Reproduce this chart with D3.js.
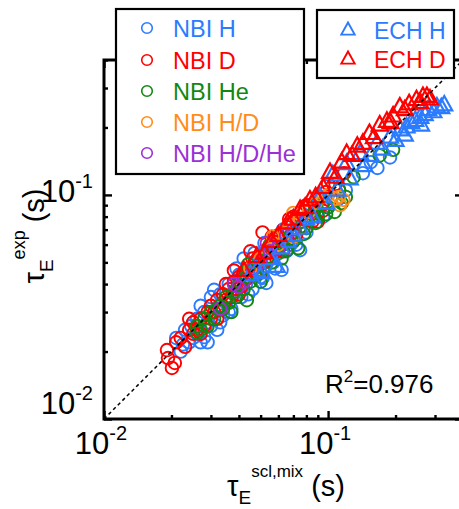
<!DOCTYPE html>
<html>
<head>
<meta charset="utf-8">
<script src="https://cdn.jsdelivr.net/npm/d3@7"></script>
<style>
  body { margin: 0; background: #fff; }
  svg text { font-family: Arial, "Liberation Sans", sans-serif; }
</style>
</head>
<body>
<svg id="chart" width="459" height="509"></svg>
<script>
// --- Data (tau_scl, tau_exp) in seconds ---
const nbiH = [[0.021,0.023],[0.022,0.020],[0.0225,0.0215],[0.023,0.025],[0.024,0.022],[0.0245,0.026],[0.025,0.023],[0.026,0.024],[0.026,0.028],[0.027,0.022],[0.027,0.032],[0.028,0.0232],[0.028,0.030],[0.029,0.027],[0.029,0.022],[0.030,0.026],[0.030,0.035],[0.031,0.0377],[0.032,0.025],[0.032,0.031],[0.033,0.036],[0.033,0.027],[0.034,0.029],[0.035,0.033],[0.036,0.040],[0.036,0.030],[0.037,0.031],[0.038,0.036],[0.039,0.047],[0.040,0.044],[0.041,0.035],[0.042,0.052],[0.043,0.040],[0.044,0.036],[0.045,0.047],[0.046,0.038],[0.047,0.055],[0.048,0.050],[0.050,0.043],[0.051,0.0426],[0.052,0.061],[0.053,0.0405],[0.055,0.058],[0.057,0.050],[0.058,0.047],[0.060,0.062],[0.062,0.0463],[0.063,0.070],[0.065,0.056],[0.068,0.060],[0.070,0.066],[0.072,0.060],[0.075,0.0567],[0.078,0.072],[0.080,0.068],[0.085,0.080],[0.090,0.085],[0.095,0.080],[0.100,0.088],[0.110,0.095],[0.120,0.105],[0.143,0.125],[0.155,0.140],[0.166,0.132],[0.189,0.147]];
const nbiD = [[0.0191,0.0203],[0.0201,0.0169],[0.0193,0.0187],[0.0207,0.0178],[0.021,0.022],[0.022,0.023],[0.023,0.021],[0.024,0.025],[0.024,0.028],[0.025,0.024],[0.025,0.027],[0.026,0.025],[0.027,0.028],[0.027,0.024],[0.028,0.026],[0.029,0.030],[0.030,0.028],[0.030,0.032],[0.031,0.030],[0.032,0.034],[0.032,0.028],[0.033,0.031],[0.034,0.036],[0.035,0.034],[0.035,0.040],[0.036,0.038],[0.037,0.035],[0.038,0.041],[0.038,0.046],[0.039,0.038],[0.040,0.043],[0.040,0.036],[0.041,0.039],[0.042,0.045],[0.043,0.042],[0.044,0.047],[0.045,0.044],[0.045,0.056],[0.046,0.052],[0.047,0.050],[0.048,0.046],[0.050,0.053],[0.050,0.045],[0.051,0.068],[0.052,0.050],[0.054,0.058],[0.055,0.053],[0.056,0.065],[0.057,0.062],[0.059,0.056],[0.060,0.066],[0.062,0.060],[0.063,0.056],[0.064,0.068],[0.066,0.063],[0.067,0.078],[0.068,0.074],[0.070,0.068],[0.070,0.080],[0.072,0.066],[0.073,0.078],[0.075,0.072],[0.078,0.085],[0.080,0.077],[0.080,0.090],[0.083,0.090],[0.085,0.076],[0.086,0.083],[0.090,0.095],[0.090,0.076],[0.094,0.090],[0.095,0.085],[0.098,0.103],[0.100,0.112],[0.103,0.097],[0.108,0.112],[0.112,0.105],[0.118,0.125]];
const nbiHe = [[0.026,0.026],[0.0261,0.0242],[0.027,0.025],[0.028,0.028],[0.029,0.026],[0.030,0.030],[0.031,0.028],[0.032,0.031],[0.033,0.032],[0.034,0.031],[0.035,0.035],[0.036,0.033],[0.037,0.030],[0.038,0.037],[0.039,0.035],[0.040,0.040],[0.042,0.038],[0.0434,0.0339],[0.043,0.043],[0.044,0.049],[0.045,0.041],[0.046,0.046],[0.048,0.044],[0.050,0.049],[0.050,0.041],[0.052,0.047],[0.054,0.053],[0.055,0.060],[0.056,0.050],[0.058,0.057],[0.060,0.055],[0.062,0.052],[0.063,0.060],[0.0656,0.0567],[0.068,0.066],[0.070,0.062],[0.0735,0.0578],[0.075,0.072],[0.078,0.067],[0.080,0.071],[0.085,0.082],[0.088,0.075],[0.090,0.080],[0.095,0.092],[0.098,0.082],[0.100,0.088],[0.107,0.084],[0.112,0.105],[0.115,0.092],[0.120,0.098],[0.130,0.120],[0.170,0.150],[0.195,0.159]];
const nbiHD = [[0.045,0.047],[0.050,0.052],[0.055,0.057],[0.0567,0.0651],[0.060,0.060],[0.065,0.068],[0.0699,0.0831],[0.070,0.065],[0.075,0.078],[0.082,0.084],[0.088,0.092],[0.095,0.098],[0.100,0.100],[0.108,0.096],[0.112,0.098],[0.113,0.090],[0.117,0.095]];
const nbiHDHe = [[0.033,0.0311],[0.038,0.040],[0.0397,0.0389],[0.042,0.041],[0.046,0.047],[0.050,0.050],[0.0533,0.0609],[0.055,0.056],[0.060,0.058],[0.065,0.066],[0.070,0.070],[0.080,0.078]];
const echH = [[0.045,0.044],[0.048,0.046],[0.051,0.045],[0.055,0.052],[0.059,0.048],[0.062,0.058],[0.066,0.062],[0.070,0.066],[0.075,0.071],[0.080,0.078],[0.085,0.080],[0.092,0.098],[0.098,0.092],[0.105,0.123],[0.110,0.105],[0.121,0.138],[0.125,0.118],[0.139,0.153],[0.145,0.135],[0.155,0.150],[0.165,0.170],[0.175,0.160],[0.189,0.181],[0.200,0.175],[0.210,0.195],[0.220,0.185],[0.224,0.201],[0.235,0.210],[0.245,0.215],[0.258,0.222],[0.260,0.205],[0.270,0.228],[0.280,0.240],[0.295,0.235],[0.306,0.247],[0.320,0.245],[0.330,0.252]];
const echD = [[0.042,0.046],[0.048,0.053],[0.052,0.055],[0.056,0.062],[0.060,0.066],[0.066,0.075],[0.070,0.078],[0.075,0.086],[0.079,0.088],[0.083,0.095],[0.088,0.098],[0.095,0.108],[0.102,0.126],[0.108,0.120],[0.115,0.140],[0.121,0.153],[0.128,0.150],[0.135,0.165],[0.143,0.170],[0.153,0.188],[0.160,0.180],[0.170,0.205],[0.183,0.213],[0.190,0.210],[0.195,0.225],[0.209,0.247],[0.220,0.240],[0.230,0.255],[0.248,0.266],[0.258,0.258],[0.265,0.275],[0.276,0.275],[0.285,0.268]];

const seriesNames = ['NBI H', 'NBI D', 'NBI He', 'NBI H/D', 'NBI H/D/He', 'ECH H', 'ECH D'];
const seriesColors = ['#2b7bff', '#ff0000', '#118811', '#ff8c1a', '#9b30d6', '#2b7bff', '#ff0000'];
const seriesData = [nbiH, nbiD, nbiHe, nbiHD, nbiHDHe, echH, echD];
const seriesShape = ['circle', 'circle', 'circle', 'circle', 'circle', 'triangle', 'triangle'];

const majorTicks = [0.01, 0.1];
const minorTicks = [0.02, 0.03, 0.04, 0.05, 0.06, 0.07, 0.08, 0.09, 0.2, 0.3, 0.4];
const tickLabels = [['10', '-2'], ['10', '-1']];
const r2Label = '0.976';

// --- Scales ---
const svg = d3.select('#chart');
const x = d3.scaleLog().domain([0.01, 0.4]).range([104, 463]);
const y = d3.scaleLog().domain([0.01, 0.4]).range([419, 60]);

const triPath = s => `M0,${-s * 0.62}L${s * 0.55},${s * 0.38}L${-s * 0.55},${s * 0.38}Z`;

function drawMarker(g, shape, color, px, py, size, sw) {
    if (shape === 'circle') {
        g.append('circle').attr('cx', px).attr('cy', py).attr('r', size)
            .attr('fill', 'none').attr('stroke', color).attr('stroke-width', sw);
    } else {
        g.append('path').attr('d', triPath(size * 2.3)).attr('transform', `translate(${px},${py})`)
            .attr('fill', 'none').attr('stroke', color).attr('stroke-width', sw + 0.3)
            .attr('stroke-linejoin', 'miter');
    }
}

// --- Points ---
const pts = svg.append('g');
seriesData.forEach((data, i) => {
    data.forEach(d => drawMarker(pts, seriesShape[i], seriesColors[i], x(d[0]), y(d[1]), 6.3, 1.9));
});

// y = x reference line
svg.append('line')
    .attr('x1', x(0.01)).attr('y1', y(0.01))
    .attr('x2', x(0.4)).attr('y2', y(0.4))
    .attr('stroke', '#000').attr('stroke-width', 1.5).attr('stroke-dasharray', '3.5,3');

// --- Axes (ticks inward on all sides) ---
function tickAxis(axisFn, scale, ticks, len, transform) {
    const g = svg.append('g').attr('transform', transform)
        .call(axisFn(scale).tickValues(ticks).tickSize(len).tickFormat(''));
    g.select('.domain').remove();
    g.selectAll('line').attr('stroke', '#000').attr('stroke-width', 2.4);
}
tickAxis(d3.axisBottom, x, majorTicks, -8, 'translate(0,419)');
tickAxis(d3.axisBottom, x, minorTicks, -4, 'translate(0,419)');
tickAxis(d3.axisTop, x, majorTicks, -8, 'translate(0,60)');
tickAxis(d3.axisTop, x, minorTicks, -4, 'translate(0,60)');
tickAxis(d3.axisLeft, y, majorTicks, -8, 'translate(104,0)');
tickAxis(d3.axisLeft, y, minorTicks, -4, 'translate(104,0)');
tickAxis(d3.axisRight, y, majorTicks, -8, 'translate(463,0)');
tickAxis(d3.axisRight, y, minorTicks, -4, 'translate(463,0)');

svg.append('rect').attr('x', 104).attr('y', 60).attr('width', 359).attr('height', 359)
    .attr('fill', 'none').attr('stroke', '#000').attr('stroke-width', 3);

// tick labels
majorTicks.forEach((v, i) => {
    const tx = svg.append('text').attr('x', x(v) - 3).attr('y', 454)
        .attr('text-anchor', 'middle').attr('font-size', 31);
    tx.append('tspan').text(tickLabels[i][0]);
    tx.append('tspan').attr('dy', -14).attr('font-size', 20).text(tickLabels[i][1]);

    const ty = svg.append('text').attr('x', 93).attr('y', i === 0 ? 414 : 202)
        .attr('text-anchor', 'end').attr('font-size', 31);
    ty.append('tspan').text(tickLabels[i][0]);
    ty.append('tspan').attr('dy', -14).attr('font-size', 20).text(tickLabels[i][1]);
});

// axis titles
const xt = svg.append('text').attr('x', 286).attr('y', 496)
    .attr('text-anchor', 'middle').attr('font-size', 29);
xt.append('tspan').text('τ');
xt.append('tspan').attr('dy', 8).attr('font-size', 19).text('E');
xt.append('tspan').attr('dy', -27).attr('font-size', 17).text('scl,mix');
xt.append('tspan').attr('dy', 19).attr('font-size', 29).text(' (s)');

const yt = svg.append('text').attr('transform', 'translate(44,236) rotate(-90)')
    .attr('text-anchor', 'middle').attr('font-size', 29);
yt.append('tspan').text('τ');
yt.append('tspan').attr('dy', 9).attr('font-size', 19).text('E');
yt.append('tspan').attr('dy', -28).attr('font-size', 18).text('exp');
yt.append('tspan').attr('dy', 19).attr('font-size', 29).text(' (s)');

// R^2 annotation
const r2 = svg.append('text').attr('x', 325).attr('y', 393).attr('font-size', 26);
r2.append('tspan').text('R');
r2.append('tspan').attr('dy', -11).attr('font-size', 17).text('2');
r2.append('tspan').attr('dy', 11).text('=' + r2Label);

// --- Legends ---
function legendBox(x0, y0, w, h, idx, rowY, fs) {
    const g = svg.append('g');
    g.append('rect').attr('x', x0).attr('y', y0).attr('width', w).attr('height', h)
        .attr('fill', '#fff').attr('stroke', '#000').attr('stroke-width', 2.2);
    idx.forEach((k, j) => {
        drawMarker(g, seriesShape[k], seriesColors[k], x0 + 31, rowY[j], 5.3, 1.6);
        g.append('text').attr('x', x0 + 57).attr('y', rowY[j] + 8.5)
            .attr('font-size', fs).attr('fill', seriesColors[k]).text(seriesNames[k]);
    });
}
legendBox(116, 9, 188, 165, [0, 1, 2, 3, 4], [28, 60, 91, 122, 153], 23.5);
legendBox(317, 10, 137, 68, [5, 6], [30, 59], 23);
</script>
</body>
</html>
